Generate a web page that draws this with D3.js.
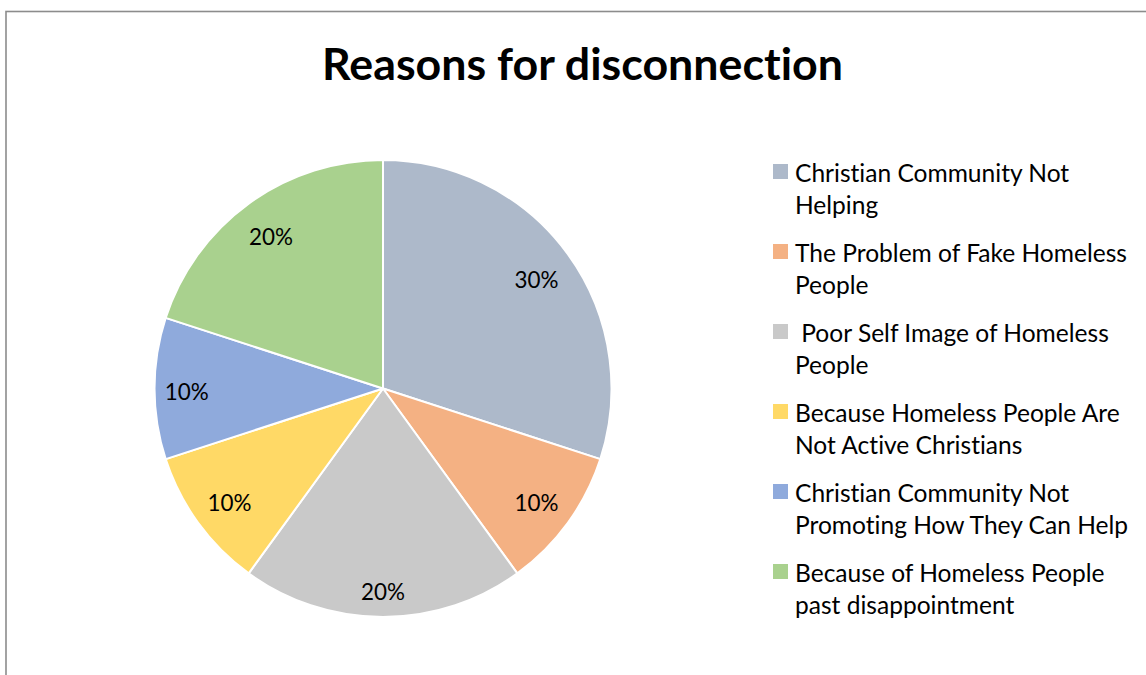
<!DOCTYPE html>
<html>
<head>
<meta charset="utf-8">
<script src="https://cdn.jsdelivr.net/npm/d3@7"></script>
<style>
  html, body { margin: 0; padding: 0; background: #fff; }
  svg { display: block; }
  text { font-family: Lato, "Open Sans", sans-serif; fill: #000;
         font-variant-ligatures: none; font-feature-settings: "liga" 0, "clig" 0; }
</style>
</head>
<body>
<svg id="chart" width="1146" height="675"></svg>
<script>
// Survey responses: reasons for disconnection
const categories = [
  "Christian Community Not Helping",
  "The Problem of Fake Homeless People",
  " Poor Self Image of Homeless People",
  "Because Homeless People Are Not Active Christians",
  "Christian Community Not Promoting How They Can Help",
  "Because of Homeless People past disappointment"
];
// legend entries wrapped onto two lines
const legendLines = [
  ["Christian Community Not", "Helping"],
  ["The Problem of Fake Homeless", "People"],
  [" Poor Self Image of Homeless", "People"],
  ["Because Homeless People Are", "Not Active Christians"],
  ["Christian Community Not", "Promoting How They Can Help"],
  ["Because of Homeless People", "past disappointment"]
];
const values = [0.30, 0.10, 0.20, 0.10, 0.10, 0.20];
const colors = ["#ADB9CA", "#F4B183", "#C9C9C9", "#FFD966", "#8FAADC", "#A9D18E"];
const titleText = "Reasons for disconnection";

const svg = d3.select("#chart");

// Chart area frame
svg.append("rect")
  .attr("x", 6).attr("y", 11.5)
  .attr("width", 1300).attr("height", 800)
  .attr("fill", "none")
  .attr("stroke", "#8c8c8c")
  .attr("stroke-width", 1.6);

// pick a font size so a sample string spans a given width
function fitSize(sample, targetWidth, weight) {
  const t = svg.append("text").attr("font-size", 100)
    .attr("font-weight", weight || "normal").text(sample);
  const w = t.node().getComputedTextLength();
  t.remove();
  return 100 * targetWidth / w;
}

const titleSize = fitSize(titleText, 521, "bold");
svg.append("text")
  .attr("x", 582.5).attr("y", 80)
  .attr("text-anchor", "middle")
  .attr("font-weight", "bold")
  .attr("font-size", titleSize)
  .text(titleText);

// Pie
const cx = 383, cy = 388.5, R = 228.5;
const pie = d3.pie().sort(null).value(d => d)
  .startAngle(0).endAngle(2 * Math.PI);
const arcs = pie(values);
const arc = d3.arc().innerRadius(0).outerRadius(R);

const g = svg.append("g").attr("transform", `translate(${cx},${cy})`);
g.selectAll("path.slice")
  .data(arcs)
  .join("path")
  .attr("class", "slice")
  .attr("d", arc)
  .attr("fill", (d, i) => colors[i])
  .attr("stroke", "#fff")
  .attr("stroke-width", 2)
  .attr("stroke-linejoin", "round");

// data labels sit inside the slice, their outer edge a fixed distance from the centre
const labelSize = fitSize("30%", 44);
const fmt = d3.format(".0%");
const edgeR = R * 0.955;
const boxH = 36;
g.selectAll("text.lbl")
  .data(arcs)
  .join("text")
  .attr("class", "lbl")
  .attr("text-anchor", "middle")
  .attr("dy", "0.5em")
  .attr("font-size", labelSize)
  .attr("fill", "#1a1a1a")
  .text(d => fmt(d.data))
  .attr("transform", function (d) {
    const a = (d.startAngle + d.endAngle) / 2;
    const w = this.getComputedTextLength();
    const sx = Math.sin(a), sy = -Math.cos(a);
    const r = edgeR - (Math.abs(sx) * w / 2 + Math.abs(sy) * boxH / 2);
    return `translate(${r * sx},${r * sy})`;
  });

// Legend
const legendSize = fitSize("The Problem of Fake Homeless", 332);
const legend = svg.append("g");
const rowY = d3.scaleLinear().domain([0, 1]).range([182, 262]);
legendLines.forEach((lines, i) => {
  const y = rowY(i);
  legend.append("rect")
    .attr("x", 773).attr("y", y - 18)
    .attr("width", 15).attr("height", 15)
    .attr("fill", colors[i]);
  const t = legend.append("text")
    .attr("x", 795).attr("y", y)
    .attr("font-size", legendSize)
    .attr("fill", "#1a1a1a")
    .style("white-space", "pre");
  lines.forEach((ln, j) => {
    t.append("tspan").attr("x", 795).attr("y", y + j * 32).text(ln);
  });
});
</script>
</body>
</html>
